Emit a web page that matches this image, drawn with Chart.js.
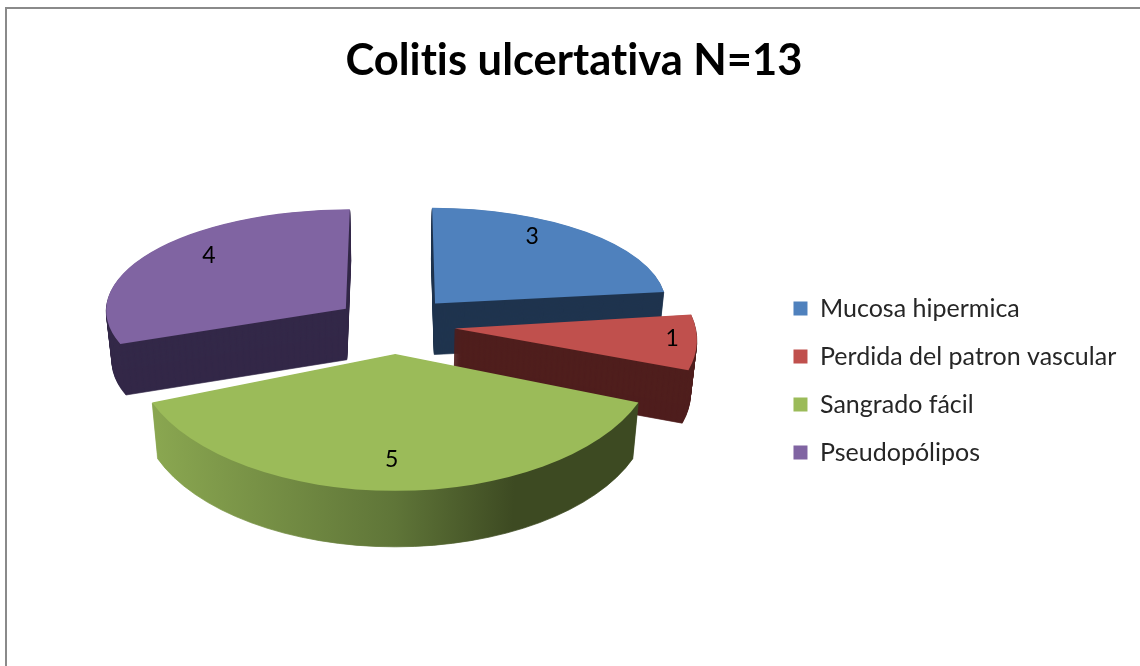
<!DOCTYPE html>
<html lang="es">
  <head>
    <meta charset="UTF-8">
    <script src="https://cdn.jsdelivr.net/npm/chart.js@4"></script>
    <style>
      html, body {
        margin: 0;
        background: #FFFFFF;
        overflow: hidden;
      }
      .frame {
        position: absolute;
        left: 5px;
        top: 7px;
        width: 1200px;
        height: 700px;
        border-left: 2px solid #8a8a8a;
        border-top: 2px solid #8a8a8a;
      }
      .chart-box {
        position: absolute;
        left: 0;
        top: 0;
        width: 1148px;
        height: 666px;
      }
    </style>
  </head>
  <body>
    <div class="frame"></div>
    <div class="chart-box"><canvas id="pieChart"></canvas></div>

    <script>
      const chartTitle = 'Colitis ulcertativa N=13';
      const categories = ['Mucosa hipermica', 'Perdida del patron vascular', 'Sangrado fácil', 'Pseudopólipos'];
      const values = [3, 1, 5, 4];

      const topColors = ['#4F81BD', '#C0504D', '#9BBB59', '#8064A2'];
      const sideColors = ['#1F344E', '#4F1E1D', null, '#332848'];
      const sideOrder = [0, 3, 1, 2];

      // la perspectiva de cada porcion, a ojo sobre la figura
      const sliceTilt = [0.376, 0.46, 0.537, 0.39];
      const sliceShrink = [0.906, 0.945, 1.02, 0.94];
      const sliceShear = [0.03, 0.2, 0, -0.04];
      const labelReach = [0.815, 0.906, 0.77, 0.785];
      const labelTurn = [-10.5, -1.4, 1, 8.7];
      const explode = 60;
      const explodeTilt = 0.48;
      const sideNarrowing = 0.0004;
      const pieShiftX = -1;
      const pieShiftY = 4;

      function sliceView(arc) {
        const angle = (arc.startAngle + arc.endAngle) / 2;
        return {
          angle: angle,
          x: arc.x + pieShiftX + Math.cos(angle) * explode,
          y: arc.y + pieShiftY + Math.sin(angle) * explode * explodeTilt,
          depth: 53 + 3 * Math.sin(angle)
        };
      }

      function applyView(ctx, arc, view, i) {
        ctx.translate(view.x, view.y);
        ctx.transform(1, 0, sliceShear[i], 1, 0, 0);
        ctx.scale(sliceShrink[i], sliceTilt[i]);
        ctx.translate(-arc.x, -arc.y);
      }

      function greenSide(ctx, arc) {
        const g = ctx.createLinearGradient(arc.x - 245, 0, arc.x + 245, 0);
        g.addColorStop(0, '#8BA851');
        g.addColorStop(0.5, '#5F7538');
        g.addColorStop(0.74, '#3D4A22');
        g.addColorStop(1, '#3D4A22');
        return g;
      }

      const pie3d = {
        id: 'pie3d',
        beforeDraw(chart) {
          // sin ligaduras en el texto
          chart.ctx.letterSpacing = '0.01px';
        },
        beforeDatasetsDraw(chart) {
          const ctx = chart.ctx;
          const arcs = chart.getDatasetMeta(0).data;

          // primero todos los costados, atras hacia adelante
          sideOrder.forEach(function (i) {
            const arc = arcs[i];
            const view = sliceView(arc);
            const plain = arc.options;
            const color = sideColors[i] || greenSide(ctx, arc);
            arc.options = Object.create(plain, {
              backgroundColor: { value: color },
              borderColor: { value: color },
              borderWidth: { value: 1 },
              borderJoinStyle: { value: 'round' }
            });
            for (let k = Math.round(view.depth); k >= 1; k--) {
              ctx.save();
              ctx.translate(arc.x + pieShiftX, k);
              ctx.scale(1 - sideNarrowing * k, 1);
              ctx.translate(-arc.x - pieShiftX, 0);
              applyView(ctx, arc, view, i);
              arc.draw(ctx);
              ctx.restore();
            }
            arc.options = plain;
          });

          // despues las tapas
          arcs.forEach(function (arc, i) {
            ctx.save();
            applyView(ctx, arc, sliceView(arc), i);
            arc.draw(ctx);
            ctx.restore();
          });

          // etiquetas con el valor
          ctx.save();
          ctx.font = '23px Lato';
          ctx.fillStyle = '#000000';
          ctx.textAlign = 'center';
          ctx.textBaseline = 'middle';
          arcs.forEach(function (arc, i) {
            const view = sliceView(arc);
            const a = view.angle + labelTurn[i] * Math.PI / 180;
            const dist = labelReach[i] * arc.outerRadius;
            const x = view.x + Math.cos(a) * dist * sliceShrink[i];
            const y = view.y + Math.sin(a) * dist * sliceTilt[i];
            ctx.fillText(String(values[i]), x, y);
          });
          ctx.restore();
          return false;
        }
      };

      new Chart(document.getElementById('pieChart'), {
        type: 'pie',
        data: {
          labels: categories,
          datasets: [{
            data: values,
            backgroundColor: topColors,
            borderWidth: 0
          }]
        },
        plugins: [pie3d],
        options: {
          responsive: true,
          maintainAspectRatio: false,
          animation: false,
          events: [],
          radius: 255,
          layout: {
            padding: { left: 22, right: 22, top: 35, bottom: 178 }
          },
          plugins: {
            tooltip: { enabled: false },
            title: {
              display: true,
              text: chartTitle,
              color: '#000000',
              font: { family: 'Lato', size: 43.5, weight: 'bold' },
              padding: { top: 0, bottom: 67 }
            },
            legend: {
              position: 'right',
              align: 'end',
              labels: {
                boxWidth: 14,
                boxHeight: 14,
                padding: 23,
                color: '#262626',
                font: { family: 'Lato', size: 25 }
              }
            }
          }
        }
      });
    </script>
  </body>
</html>
